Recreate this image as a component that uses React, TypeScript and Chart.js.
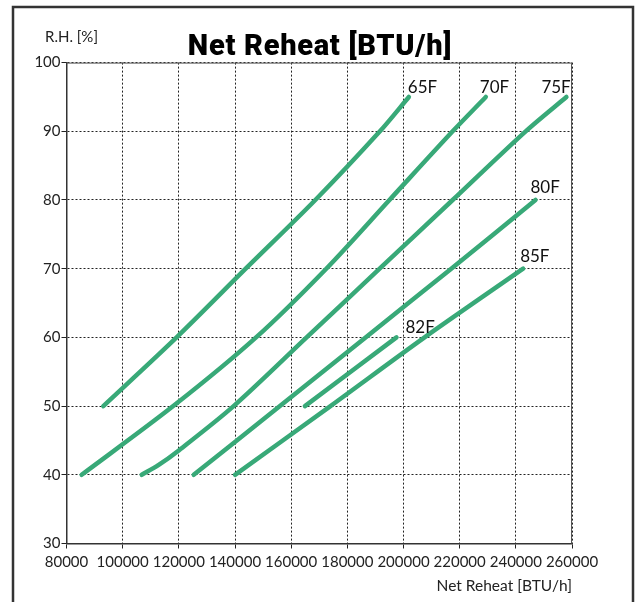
import { useEffect, useRef } from 'react';
import { Chart, registerables } from 'chart.js';

Chart.register(...registerables);

// ---- data ----
const seriesNames = ['65F', '70F', '75F', '80F', '82F', '85F'];

const reheat65 = [93100, 119200, 143800, 168600, 191600, 201900];
const rh65 = [50, 60, 70, 80, 90, 95];

const reheat70 = [85400, 118000, 147500, 172500, 195000, 217500, 229300];
const rh70 = [40, 50, 60, 70, 80, 90, 95];

const reheat75 = [106800, 112700, 119500, 139500, 165500, 191500, 217500, 243500, 258000];
const rh75 = [40, 41.4, 43.4, 50, 60, 70, 80, 90, 95];

const reheat80 = [125300, 156000, 186500, 217000, 247000];
const rh80 = [40, 50, 60, 70, 80];

const reheat82 = [164900, 197500];
const rh82 = [50, 60];

const reheat85 = [140000, 174000, 207500, 242600];
const rh85 = [40, 50, 60, 70];

const xTickValues = [80000, 100000, 120000, 140000, 160000, 180000, 200000, 220000, 240000, 260000];
const yTickValues = [30, 40, 50, 60, 70, 80, 90, 100];

const chartTitle = 'Net Reheat [BTU/h]';
const xAxisTitle = 'Net Reheat [BTU/h]';
const yAxisTitle = 'R.H. [%]';

// label offsets (style) relative to each line's end point
const labelOffsets: [number, number][] = [
  [-1, -4],
  [-6, -4],
  [-25, -4],
  [-5, -7],
  [9, -4],
  [-3, -7],
];

const LINE_COLOR = '#38A978';
const FONT = 'Lato, "Open Sans", sans-serif';

function pts(xs: number[], ys: number[]) {
  return xs.map((x, i) => ({ x, y: ys[i] }));
}

const annotatePlugin = {
  id: 'annotate',
  afterDraw(chart: any) {
    const ctx = chart.ctx;
    const area = chart.chartArea;
    ctx.save();
    // outer frame
    ctx.strokeStyle = '#333';
    ctx.lineWidth = 2.5;
    ctx.beginPath();
    ctx.moveTo(13, 620);
    ctx.lineTo(13, 7);
    ctx.lineTo(633, 7);
    ctx.lineTo(633, 620);
    ctx.stroke();

    // plot border top/right
    ctx.strokeStyle = '#555';
    ctx.lineWidth = 1;
    ctx.beginPath();
    ctx.moveTo(area.left, area.top + 0.5);
    ctx.lineTo(area.right - 0.5, area.top + 0.5);
    ctx.lineTo(area.right - 0.5, area.bottom);
    ctx.stroke();

    // title
    ctx.fillStyle = '#000';
    ctx.font = '900 29px Roboto, sans-serif';
    try { (ctx as any).letterSpacing = '0.7px'; } catch (e) {}
    ctx.textAlign = 'center';
    ctx.textBaseline = 'alphabetic';
    ctx.fillText(chartTitle, 320, 55);
    try { (ctx as any).letterSpacing = '0px'; } catch (e) {}

    // axis titles
    ctx.fillStyle = '#222';
    ctx.font = '15px ' + FONT;
    ctx.textAlign = 'left';
    ctx.fillText(yAxisTitle, 45, 42);
    ctx.font = '15.5px ' + FONT;
    ctx.textAlign = 'right';
    ctx.fillText(xAxisTitle, area.right, 591);

    // series labels
    ctx.font = '17px ' + FONT;
    ctx.textAlign = 'left';
    ctx.fillStyle = '#111';
    chart.data.datasets.forEach((ds: any, i: number) => {
      const meta = chart.getDatasetMeta(i);
      const last = meta.data[meta.data.length - 1];
      const [dx, dy] = labelOffsets[i];
      ctx.fillText(ds.label, last.x + dx, last.y + dy);
    });
    ctx.restore();
  },
};

const gridOpts = {
  color: '#222',
  lineWidth: 1,
  drawTicks: true,
  tickLength: 5,
  tickColor: '#222',
  tickBorderDash: [],
};
const borderOpts = { display: true, color: '#333', width: 1.5, dash: [2, 2] };

export default function App() {
  const ref = useRef<HTMLCanvasElement | null>(null);
  useEffect(() => {
    const canvas = ref.current;
    if (!canvas) return;
    const allX = [reheat65, reheat70, reheat75, reheat80, reheat82, reheat85];
    const allY = [rh65, rh70, rh75, rh80, rh82, rh85];
    const chart = new Chart(canvas, {
      type: 'line',
      data: {
        datasets: seriesNames.map((name, i) => ({
          label: name,
          data: pts(allX[i], allY[i]),
          borderColor: LINE_COLOR,
          backgroundColor: LINE_COLOR,
          borderWidth: 4.5,
          borderCapStyle: 'round',
          borderJoinStyle: 'round',
          pointRadius: 0,
          tension: 0.3,
          fill: false,
        })),
      },
      options: {
        animation: false,
        responsive: false,
        maintainAspectRatio: false,
        layout: { padding: { top: 62.6, right: 65, left: 0, bottom: 0 } },
        plugins: {
          legend: { display: false },
          tooltip: { enabled: false },
          title: { display: false },
        },
        scales: {
          x: {
            type: 'linear',
            min: 80000,
            max: 260000,
            afterBuildTicks: (s: any) => {
              s.ticks = xTickValues.map((v) => ({ value: v }));
            },
            afterFit: (s: any) => {
              s.height = 58.5;
            },
            grid: gridOpts,
            border: borderOpts,
            ticks: {
              color: '#222',
              font: { family: FONT, size: 15 },
              padding: 5,
              maxRotation: 0,
              autoSkip: false,
              callback: (v: any) => String(v),
            },
          },
          y: {
            type: 'linear',
            min: 30,
            max: 100,
            afterBuildTicks: (s: any) => {
              s.ticks = yTickValues.map((v) => ({ value: v }));
            },
            afterFit: (s: any) => {
              s.width = 66.5;
            },
            grid: gridOpts,
            border: borderOpts,
            ticks: {
              color: '#222',
              font: { family: FONT, size: 15 },
              padding: 1,
              autoSkip: false,
              callback: (v: any) => String(v),
            },
          },
        },
      },
      plugins: [annotatePlugin],
    } as any);
    return () => chart.destroy();
  }, []);
  return (
    <div style={{ position: 'fixed', left: 0, top: 0, width: 637, height: 602, background: '#fff' }}>
      <canvas ref={ref} width={637} height={602} style={{ width: 637, height: 602, display: 'block' }} />
    </div>
  );
}
